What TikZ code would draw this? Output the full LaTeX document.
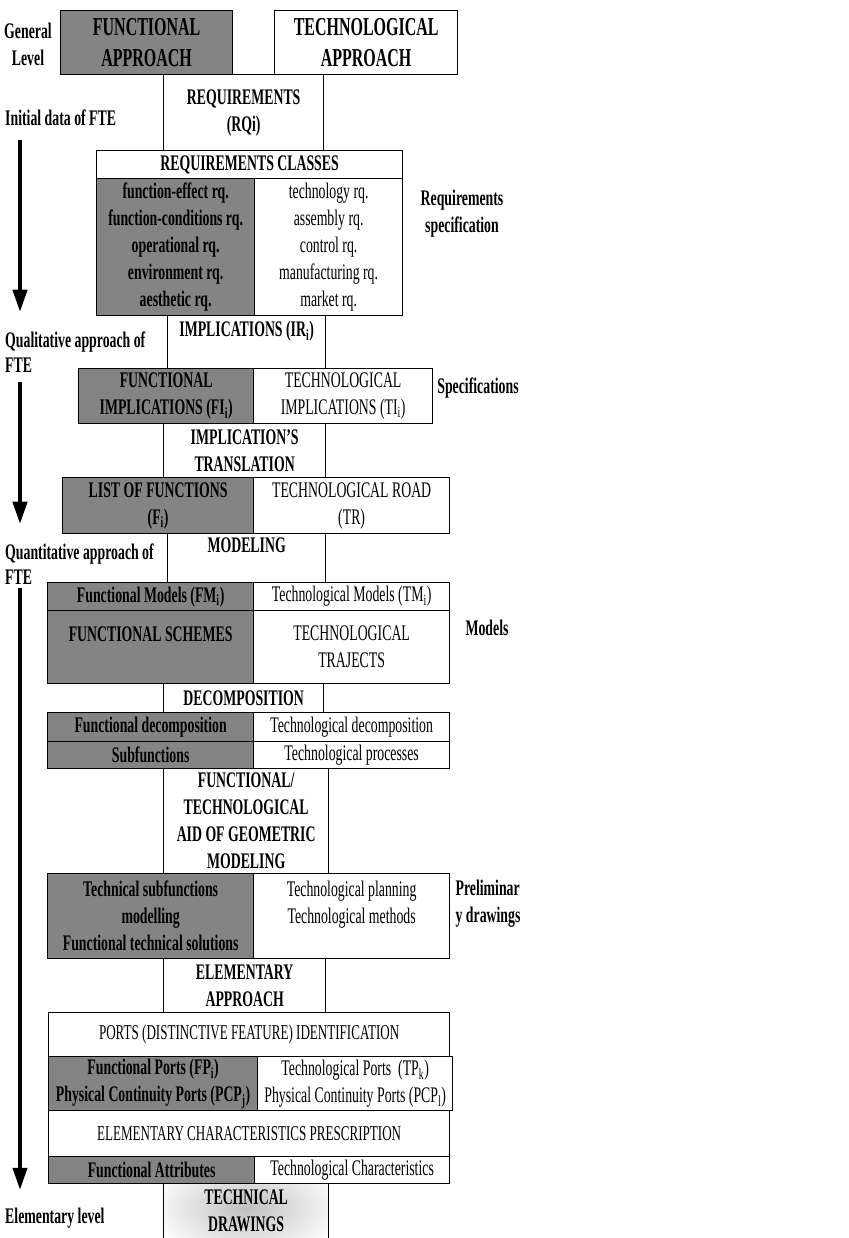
\documentclass[tikz,border=0pt]{standalone}
\usepackage{fontspec}
\setmainfont{Liberation Serif}[FakeStretch=0.62]
\usetikzlibrary{arrows.meta}
\definecolor{fdark}{RGB}{132,132,132}

\begin{document}
\begin{tikzpicture}[x=0.03cm,y=-0.03cm,
  cell/.style={draw,line width=1.1pt,inner sep=0pt,align=center,anchor=north west,font=\bfseries\fontsize{19}{23}\selectfont},
  span/.style 2 args={minimum width=#1*0.03cm,minimum height=#2*0.03cm},
  fcell/.style={cell,fill=fdark},
  tcell/.style={cell,fill=white,font=\fontsize{19}{23}\selectfont},
  wide/.style={tcell,font=\fontsize{18}{23}\selectfont},
  big/.style={font=\bfseries\fontsize{22}{27}\selectfont},
  side/.style={font=\bfseries\fontsize{19}{23}\selectfont,align=center,inner sep=0pt},
  level/.style={font=\bfseries\fontsize{19}{21}\selectfont,align=left,anchor=north west,inner sep=0pt},
  flow/.style={line width=3.4pt,-{Triangle[length=19pt,width=12pt]}}]
\useasboundingbox (0,0) rectangle (849,1238);

% boxes of the middle column
\node[cell,span={160}{76}] (req) at (163,74) {REQUIREMENTS\\(RQi)};
\node[cell,span={158}{53}] (impl) at (167,315) {IMPLICATIONS (IR\textsubscript{i})\\\mbox{}};
\node[cell,span={162}{54}] (trans) at (163,423) {IMPLICATION'S\\TRANSLATION};
\node[cell,span={158}{49}] (model) at (167,533) {MODELING\\\mbox{}};
\node[cell,span={160}{29}] (decomp) at (163,683) {DECOMPOSITION};
\node[cell,span={165}{105}] (aid) at (163,768) {FUNCTIONAL/\\TECHNOLOGICAL\\AID OF GEOMETRIC\\MODELING};
\node[cell,span={162}{54}] (elem) at (163,958) {ELEMENTARY\\APPROACH};
\node[cell,span={165}{55},
  path picture={\shade[inner color=gray!50,outer color=white]
    ([yshift=3pt]path picture bounding box.center) ellipse [x radius=3cm,y radius=1.6cm];}] (draw) at (163,1183) {TECHNICAL\\DRAWINGS};

% general level
\node[fcell,big,span={172}{64}] (fa) at (60,10) {FUNCTIONAL\\APPROACH};
\node[cell,big,span={183}{64}] (ta) at (274,10) {TECHNOLOGICAL\\APPROACH};

% requirements
\node[cell,span={306}{28}] (rqc) at (96,150) {REQUIREMENTS CLASSES};
\node[fcell,span={158}{137}] (rqf) at (96,178) {function-effect rq.\\function-conditions rq.\\operational rq.\\environment rq.\\aesthetic rq.};
\node[tcell,span={148}{137}] (rqt) at (254,178) {technology rq.\\assembly rq.\\control rq.\\manufacturing rq.\\market rq.};

% specifications
\node[fcell,span={175}{55}] (fi) at (78,368) {FUNCTIONAL\\IMPLICATIONS (FI\textsubscript{i})};
\node[tcell,span={179}{55}] (ti) at (253,368) {TECHNOLOGICAL\\IMPLICATIONS (TI\textsubscript{i})};
\node[fcell,span={191}{56}] (lf) at (62,477) {LIST OF FUNCTIONS\\(F\textsubscript{i})};
\node[tcell,span={196}{56}] (tr) at (253,477) {TECHNOLOGICAL ROAD\\(TR)};

% models
\node[fcell,span={206}{28}] (fm) at (47,582) {Functional Models (FM\textsubscript{i})};
\node[tcell,span={196}{28}] (tm) at (253,582) {Technological Models (TM\textsubscript{i})};
\node[fcell,span={206}{73}] (fs) at (47,610) {FUNCTIONAL SCHEMES\\\mbox{}};
\node[tcell,span={196}{73}] (tt) at (253,610) {TECHNOLOGICAL\\TRAJECTS};
\node[fcell,span={206}{29}] (fd) at (47,712) {Functional decomposition};
\node[tcell,span={196}{29}] (tdec) at (253,712) {Technological decomposition};
\node[fcell,span={206}{27}] (sf) at (47,741) {Subfunctions};
\node[tcell,span={196}{27}] (tproc) at (253,741) {Technological processes};

% preliminary drawings
\node[fcell,span={206}{85}] (tsf) at (47,873) {Technical subfunctions\\modelling\\Functional technical solutions};
\node[tcell,span={196}{85}] (tpl) at (253,873) {Technological planning\\Technological methods\\\mbox{}};

% elementary level
\node[wide,span={401}{44}] (ports) at (48,1012) {PORTS (DISTINCTIVE FEATURE) IDENTIFICATION};
\node[fcell,span={209}{54}] (fp) at (48,1056) {Functional Ports (FP\textsubscript{i})\\Physical Continuity Ports (PCP\textsubscript{j})};
\node[tcell,span={195}{54}] (tport) at (257,1056) {Technological Ports \ (TP\textsubscript{k})\\Physical Continuity Ports (PCP\textsubscript{l})};
\node[wide,span={401}{46}] (ecp) at (48,1110) {ELEMENTARY CHARACTERISTICS PRESCRIPTION};
\node[fcell,span={206}{27}] (fattr) at (48,1156) {Functional Attributes};
\node[tcell,span={195}{27}] (tchar) at (254,1156) {Technological Characteristics};

% labels on the right
\node[side] (sreq) at (462,214) {Requirements\\specification};
\node[side] (sspec) at (478,388) {Specifications};
\node[side] (smod) at (487,628) {Models};
\node[side,align=left] (sprel) at (488,904) {Preliminar\\y drawings};

% levels on the left
\node[side] (lvgen) at (28,44) {General\\Level};
\node[level] (lvinit) at (5,110) {Initial data of FTE};
\node[level] (lvqual) at (5,332) {Qualitative approach of\\FTE};
\node[level] (lvquan) at (5,544) {Quantitative approach of\\FTE};
\node[level] (lvelem) at (5,1208) {Elementary level};

\coordinate (a1) at (20,140);
\coordinate (b1) at (20,312);
\coordinate (a2) at (20,382);
\coordinate (b2) at (20,524);
\coordinate (a3) at (20,588);
\coordinate (b3) at (20,1190);
\draw[flow] (a1) -- (b1);
\draw[flow] (a2) -- (b2);
\draw[flow] (a3) -- (b3);
\end{tikzpicture}
\end{document}
